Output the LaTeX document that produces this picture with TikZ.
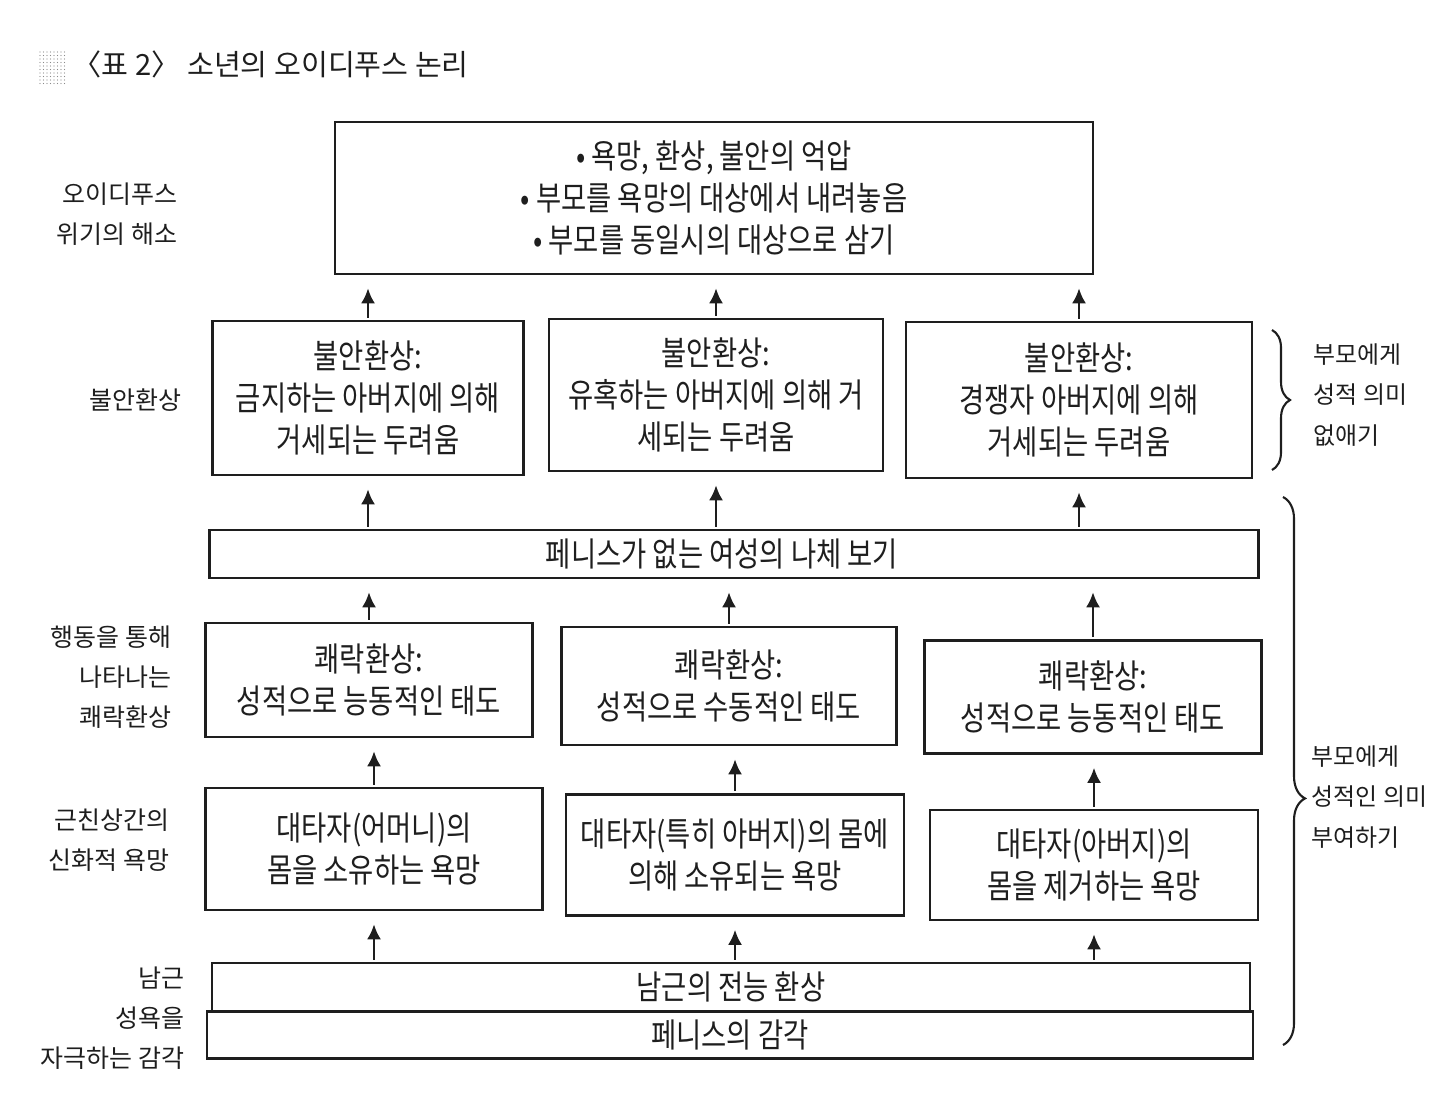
\documentclass[tikz,border=0pt]{standalone}
\usepackage{fontspec}
\setmainfont{Noto Sans CJK KR}
\newfontfamily\boxfont{Noto Sans CJK KR}[FakeStretch=0.82]
\newfontfamily\sidefont{Noto Sans CJK KR}
\usetikzlibrary{arrows.meta,decorations.pathreplacing}
\definecolor{ink}{HTML}{1E1E1E}
\definecolor{dotg}{HTML}{8A8A8A}

\begin{document}
\begin{tikzpicture}[x=0.01cm,y=-0.01cm,
  card/.style={draw=ink,line width=0.7pt,inner sep=0pt,align=center,text=ink,
    font=\boxfont\fontsize{9.5}{12}\selectfont},
  side/.style={align=right,anchor=east,inner sep=0pt,text=ink,font=\sidefont\fontsize{7.1}{11.4}\selectfont},
  up/.style={ink,line width=0.7pt,-{Latex[length=0.15cm,width=0.14cm]},shorten <=0.02cm,shorten >=0.13cm},
  curly/.style={ink,line width=0.6pt,decorate}]
\useasboundingbox (0,0) rectangle (1440,1106);
% title with the dotted marker
\foreach \i in {0,...,7} \foreach \j in {0,...,9} \fill[dotg] (40+\i*3.5,52+\j*3.5) circle (0.006cm);
\node[anchor=west,inner sep=0pt,text=ink,font=\fontsize{8.3}{10}\selectfont] (title) at (72,64) {〈표 2〉 소년의 오이디푸스 논리};
% resolution box on top
\node[card,minimum width=7.58cm,minimum height=1.52cm] (top) at (714,198)
  {• 욕망, 환상, 불안의 억압\\• 부모를 욕망의 대상에서 내려놓음\\• 부모를 동일시의 대상으로 삼기};
% anxiety fantasies
\node[card,minimum width=3.11cm,minimum height=1.54cm] (r2a) at (368,398) {불안환상:\\금지하는 아버지에 의해\\거세되는 두려움};
\node[card,minimum width=3.34cm,minimum height=1.52cm] (r2b) at (716,395) {불안환상:\\유혹하는 아버지에 의해 거\\세되는 두려움};
\node[card,minimum width=3.46cm,minimum height=1.56cm] (r2c) at (1079,400) {불안환상:\\경쟁자 아버지에 의해\\거세되는 두려움};
% wide band
\node[card,minimum width=10.48cm,minimum height=0.48cm] (look) at (734,554) {페니스가 없는 여성의 나체 보기\hspace*{0.24cm}};
% pleasure fantasies
\node[card,minimum width=3.27cm,minimum height=1.14cm] (r4a) at (369,680) {쾌락환상:\\성적으로 능동적인 태도};
\node[card,minimum width=3.35cm,minimum height=1.18cm] (r4b) at (729,686) {쾌락환상:\\성적으로 수동적인 태도};
\node[card,minimum width=3.37cm,minimum height=1.13cm] (r4c) at (1093,697) {쾌락환상:\\성적으로 능동적인 태도};
% incestuous desires
\node[card,minimum width=3.37cm,minimum height=1.22cm] (r5a) at (374,849) {대타자(어머니)의\\몸을 소유하는 욕망};
\node[card,minimum width=3.38cm,minimum height=1.21cm] (r5b) at (735,855) {대타자(특히 아버지)의 몸에\\의해 소유되는 욕망};
\node[card,minimum width=3.28cm,minimum height=1.10cm] (r5c) at (1094,865) {대타자(아버지)의\\몸을 제거하는 욕망};
% the two bottom bands
\node[card,minimum width=10.37cm,minimum height=0.48cm] (phal) at (731,987) {남근의 전능 환상};
\node[card,minimum width=10.45cm,minimum height=0.47cm] (feel) at (730,1035) {페니스의 감각};
% arrows, one per column and level
\foreach \c in {a,b,c} {
  \draw[up] (r2\c.north) -- (r2\c.north |- top.south);
  \draw[up] (r2\c.south |- look.north) -- (r2\c.south);
  \draw[up] (r4\c.north) -- (r4\c.north |- look.south);
  \draw[up] (r5\c.north) -- (r5\c.north |- r4\c.south);
  \draw[up] (r5\c.south |- phal.north) -- (r5\c.south);
}
% level labels on the left
\node[side] (lres) at (178,214) {오이디푸스\\위기의 해소};
\node[side] (lanx) at (182,400) {불안환상};
\node[side] (lact) at (172,677) {행동을 통해\\나타나는\\쾌락환상};
\node[side] (linc) at (170,840) {근친상간의\\신화적 욕망};
\node[side] (lsen) at (185,1018) {남근\\성욕을\\자극하는 감각};
% braces and notes on the right
\draw[curly,decoration={brace,amplitude=0.18cm}] (1272,330) -- (1272,470);
\draw[curly,decoration={brace,amplitude=0.22cm,aspect=0.55}] (1283,497) -- (1283,1045);
\node[side,anchor=west,align=left,font=\sidefont\fontsize{6.8}{11.4}\selectfont] (rnone) at (1313,395) {부모에게\\성적 의미\\없애기};
\node[side,anchor=west,align=left,font=\sidefont\fontsize{6.8}{11.4}\selectfont] (rgive) at (1311,797) {부모에게\\성적인 의미\\부여하기};
\end{tikzpicture}
\end{document}
